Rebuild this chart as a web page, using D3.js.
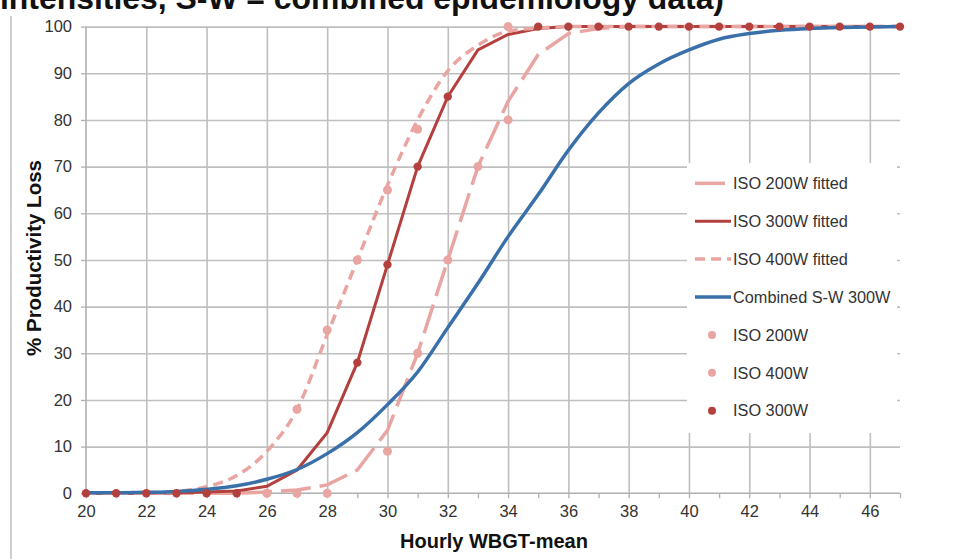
<!DOCTYPE html>
<html><head><meta charset="utf-8">
<script src="https://cdn.jsdelivr.net/npm/d3@7"></script>
<style>
body{margin:0;background:#fff;}
svg{display:block;font-family:"Liberation Sans",Arial,Helvetica,sans-serif;}
</style>
</head><body>
<svg id="chart" width="976" height="559"></svg>
<script>
// ---------------- data ----------------
const titleText = "intensities, S-W = combined epidemiology data)";
const xTitle = "Hourly WBGT-mean";
const yTitle = "% Productivity Loss";

const wbgt = [20,21,22,23,24,25,26,27,28,29,30,31,32,33,34,35,36,37,38,39,40,41,42,43,44,45,46,47];

const iso200Fitted = [0,0,0,0,0,0,0.3,0.7,1.8,5,13.5,30,50,70,84,94,98.5,99.6,100,100,100,100,100,100,100,100,100,100];
const iso300Fitted = [0,0,0,0.1,0.3,0.5,1.5,5,13,28,49,70,85,95,98.3,99.6,100,100,100,100,100,100,100,100,100,100,100,100];
const iso400Fitted = [0,0,0.1,0.4,1.4,3.8,9,18,34,50,66,80,90.5,96,99,99.7,100,100,100,100,100,100,100,100,100,100,100,100];
const combinedSW   = [0.1,0.1,0.2,0.4,0.85,1.6,3,5.1,8.5,13,19,26,35.5,45,55,64,73.5,81.5,87.8,92,95,97.3,98.5,99.2,99.6,99.8,99.9,100];

const iso200X = [26,27,28,30,31,32,33,34];
const iso200Y = [0,0,0,9,30,50,70,80];
const iso400X = [27,28,29,30,31,34];
const iso400Y = [18,35,50,65,78,100];
const iso300X = [20,21,22,23,24,25,29,30,31,32,35,36,37,38,39,40,41,42,43,44,45,46,47];
const iso300Y = [0,0,0,0,0,0,28,49,70,85,100,100,100,100,100,100,100,100,100,100,100,100,100];

const xTicks = [20,22,24,26,28,30,32,34,36,38,40,42,44,46];
const yTicks = [0,10,20,30,40,50,60,70,80,90,100];

const legendNames = ["ISO 200W fitted","ISO 300W fitted","ISO 400W fitted","Combined S-W 300W","ISO 200W","ISO 400W","ISO 300W"];

// ---------------- styles ----------------
const PINK = "#e9a5a2", DARK = "#b3403c", BLUE = "#3a70aa";
const GRID = "#bfbfbf", AXIS = "#b0b0b0", TXT = "#333";

const svg = d3.select("#chart");
const x = d3.scaleLinear().domain([20,47]).range([86,900]);
const y = d3.scaleLinear().domain([0,100]).range([493.3,26.6]);

// left decorative border line
svg.append("line").attr("x1",11).attr("x2",11).attr("y1",16).attr("y2",559)
  .attr("stroke","#cfcfcf").attr("stroke-width",2);

// title (cut off at top, as in the source image)
svg.append("text").attr("x",0).attr("y",8.5)
  .attr("font-size",31).attr("font-weight","bold").attr("fill","#111")
  .attr("textLength",724).attr("lengthAdjust","spacingAndGlyphs")
  .text(titleText);

// gridlines
const gx = svg.append("g").attr("transform","translate(0,"+y(0)+")")
  .call(d3.axisBottom(x).tickValues(xTicks.filter(v=>v>20)).tickSize(-(y(0)-y(100))).tickFormat(""));
gx.select(".domain").remove();
gx.selectAll("line").attr("stroke",GRID).attr("stroke-width",1.6);

const gy = svg.append("g").attr("transform","translate("+x(20)+",0)")
  .call(d3.axisLeft(y).tickValues(yTicks.filter(v=>v>0)).tickSize(-(x(47)-x(20))).tickFormat(""));
gy.select(".domain").remove();
gy.selectAll("line").attr("stroke",GRID).attr("stroke-width",1.6);

// axes
const ax = svg.append("g").attr("transform","translate(0,"+y(0)+")")
  .call(d3.axisBottom(x).tickValues(wbgt).tickSize(5).tickFormat(""));
ax.select(".domain").attr("stroke",AXIS).attr("stroke-width",1.6).attr("d","M"+x(20)+",0H"+x(47));
ax.selectAll("line").attr("stroke",AXIS).attr("stroke-width",1.3);

const axl = svg.append("g").attr("transform","translate(0,"+y(0)+")")
  .call(d3.axisBottom(x).tickValues(xTicks).tickSize(0).tickPadding(12).tickFormat(d3.format("d")));
axl.select(".domain").remove();
axl.selectAll("text").attr("font-size",16.5).attr("fill",TXT).attr("font-family","Liberation Sans, Arial, sans-serif");

const ay = svg.append("g").attr("transform","translate("+x(20)+",0)")
  .call(d3.axisLeft(y).tickValues(yTicks).tickSize(5).tickPadding(9).tickFormat(d3.format("d")));
ay.select(".domain").attr("stroke",AXIS).attr("stroke-width",1.6).attr("d","M0,"+y(100)+"V"+y(0));
ay.selectAll("line").attr("stroke",AXIS).attr("stroke-width",1.3);
ay.selectAll("text").attr("font-size",16.5).attr("fill",TXT).attr("font-family","Liberation Sans, Arial, sans-serif");

// axis titles
svg.append("text").attr("x",494).attr("y",548).attr("text-anchor","middle")
  .attr("font-size",20).attr("font-weight","bold").attr("fill","#111").text(xTitle);
svg.append("text").attr("transform","translate(41,258) rotate(-90)").attr("text-anchor","middle")
  .attr("font-size",20.5).attr("font-weight","bold").attr("fill","#111").text(yTitle);

// lines
const line = d3.line().x((d,i)=>x(wbgt[i])).y(d=>y(d));
const smooth = d3.line().x((d,i)=>x(wbgt[i])).y(d=>y(d)).curve(d3.curveMonotoneX);

svg.append("path").datum(iso200Fitted).attr("d",line).attr("fill","none")
  .attr("stroke",PINK).attr("stroke-width",3.5).attr("stroke-dasharray","30,9");
svg.append("path").datum(iso300Fitted).attr("d",line).attr("fill","none")
  .attr("stroke",DARK).attr("stroke-width",3);
svg.append("path").datum(iso400Fitted).attr("d",smooth).attr("fill","none")
  .attr("stroke",PINK).attr("stroke-width",3.5).attr("stroke-dasharray","10,6");
svg.append("path").datum(combinedSW).attr("d",smooth).attr("fill","none")
  .attr("stroke",BLUE).attr("stroke-width",3.5);

// points
function pts(xs, ys, color, r){
  svg.append("g").selectAll("circle").data(xs).join("circle")
    .attr("cx",d=>x(d)).attr("cy",(d,i)=>y(ys[i])).attr("r",r).attr("fill",color);
}
pts(iso200X, iso200Y, PINK, 4.5);
pts(iso400X, iso400Y, PINK, 4.5);
pts(iso300X, iso300Y, DARK, 4.2);

// legend
const lg = svg.append("g");
lg.append("rect").attr("x",687).attr("y",163).attr("width",210).attr("height",270).attr("fill","#fff");
const ly = i => 183.3 + i*37.9;
const styles = [
  {type:"line", color:PINK, dash:"30,9", w:3.5},
  {type:"line", color:DARK, dash:null, w:3},
  {type:"line", color:PINK, dash:"10,6", w:3.5},
  {type:"line", color:BLUE, dash:null, w:3.5},
  {type:"dot", color:PINK},
  {type:"dot", color:PINK},
  {type:"dot", color:DARK}
];
legendNames.forEach((n,i)=>{
  const s = styles[i];
  if(s.type==="line"){
    lg.append("line").attr("x1",695).attr("x2",731).attr("y1",ly(i)).attr("y2",ly(i))
      .attr("stroke",s.color).attr("stroke-width",s.w).attr("stroke-dasharray",s.dash);
  } else {
    lg.append("circle").attr("cx",712).attr("cy",ly(i)).attr("r",4).attr("fill",s.color);
  }
  lg.append("text").attr("x",733).attr("y",ly(i)).attr("dy","0.35em")
    .attr("font-size",16.3).attr("fill",TXT).text(n);
});
</script>
</body></html>
